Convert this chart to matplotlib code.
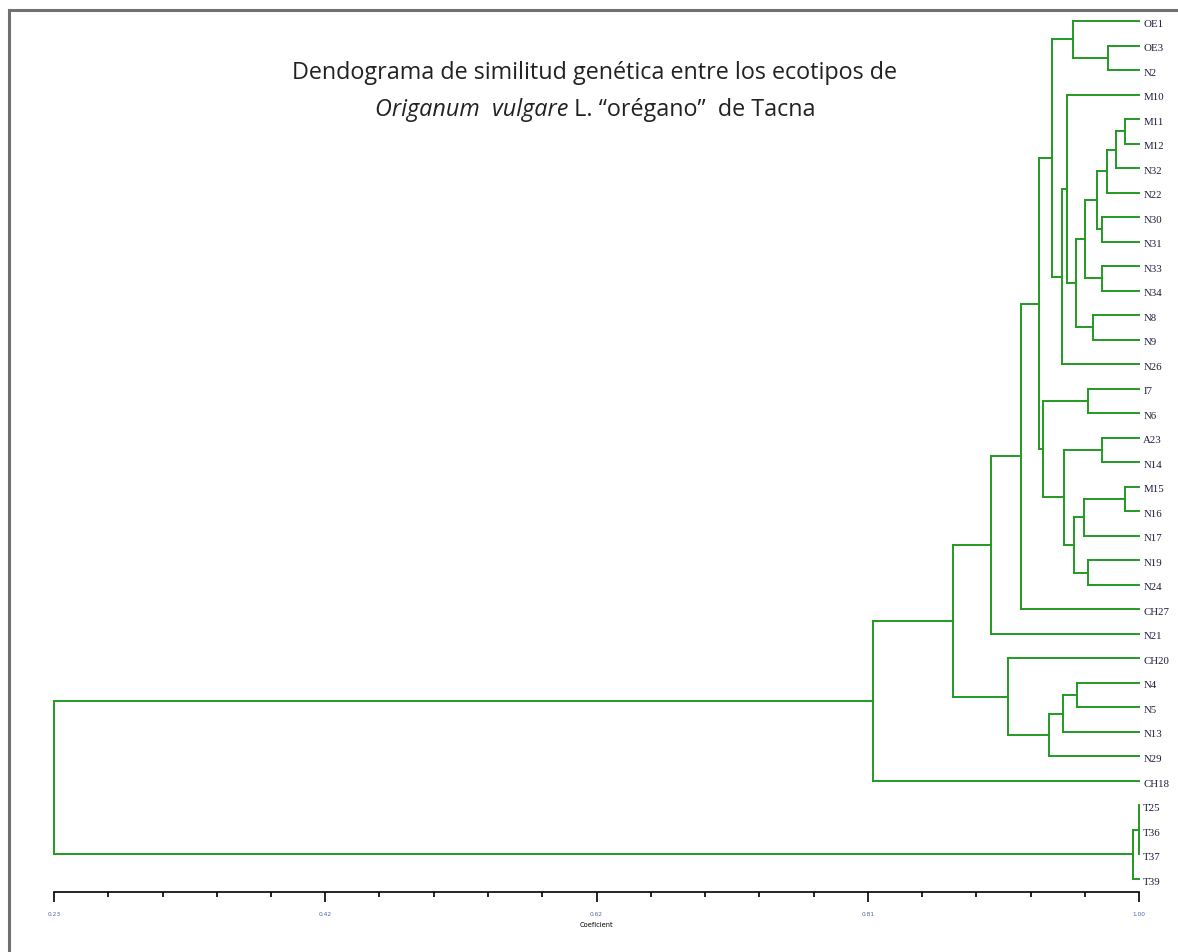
import matplotlib
matplotlib.use('Agg')
from matplotlib import pyplot as plt
from matplotlib.lines import Line2D

# leaves, top to bottom
leaves = ['OE1', 'OE3', 'N2', 'M10', 'M11', 'M12', 'N32', 'N22', 'N30', 'N31',
          'N33', 'N34', 'N8', 'N9', 'N26', 'I7', 'N6', 'A23', 'N14', 'M15',
          'N16', 'N17', 'N19', 'N24', 'CH27', 'N21', 'CH20', 'N4', 'N5', 'N13',
          'N29', 'CH18', 'T25', 'T36', 'T37', 'T39']

# merges: (cluster name, members, similarity coefficient)
merges = [
    ('a1', ['OE3', 'N2'], 0.978),
    ('a2', ['OE1', 'a1'], 0.953),
    ('b1', ['M11', 'M12'], 0.990),
    ('b2', ['b1', 'N32'], 0.984),
    ('b3', ['b2', 'N22'], 0.977),
    ('b4', ['N30', 'N31'], 0.974),
    ('b5', ['b3', 'b4'], 0.970),
    ('b6', ['N33', 'N34'], 0.974),
    ('b7', ['b5', 'b6'], 0.962),
    ('b8', ['N8', 'N9'], 0.967),
    ('b9', ['b7', 'b8'], 0.955),
    ('b10', ['M10', 'b9'], 0.949),
    ('b11', ['b10', 'N26'], 0.945),
    ('a3', ['a2', 'b11'], 0.938),
    ('c1', ['I7', 'N6'], 0.964),
    ('c2', ['A23', 'N14'], 0.974),
    ('c3', ['M15', 'N16'], 0.990),
    ('c4', ['c3', 'N17'], 0.961),
    ('c5', ['N19', 'N24'], 0.964),
    ('c6', ['c4', 'c5'], 0.954),
    ('c7', ['c2', 'c6'], 0.947),
    ('c8', ['c1', 'c7'], 0.932),
    ('d1', ['a3', 'c8'], 0.929),
    ('d2', ['d1', 'CH27'], 0.916),
    ('d3', ['d2', 'N21'], 0.895),
    ('e1', ['N4', 'N5'], 0.956),
    ('e2', ['e1', 'N13'], 0.946),
    ('e3', ['e2', 'N29'], 0.936),
    ('e4', ['CH20', 'e3'], 0.907),
    ('d4', ['d3', 'e4'], 0.868),
    ('d5', ['d4', 'CH18'], 0.811),
    ('t1', ['T25', 'T36', 'T37'], 1.000),
    ('t2', ['t1', 'T39'], 0.996),
    ('root', ['d5', 't2'], 0.230),
]

tick_vals = [0.23, 0.4225, 0.615, 0.8075, 1.00]
tick_labels = ['0.23', '0.42', '0.62', '0.81', '1.00']
minor_vals = [0.23 + i * 0.0385 for i in range(21)]

title1 = 'Dendograma de similitud genética entre los ecotipos de'
title2_it = 'Origanum  vulgare'
title2_rest = ' L. \u201corégano\u201d  de Tacna'

green = '#229a22'
W, H = 1178, 953

fig = plt.figure(figsize=(W / 100, H / 100), dpi=100)
ax = fig.add_axes([54 / W, (H - 893) / H, (1139 - 54) / W, (893 - 12) / H])

# positions
pos = {name: (1.0, i) for i, name in enumerate(leaves)}
for name, members, sim in merges:
    ys = [pos[m][1] for m in members]
    for m in members:
        mx, my = pos[m]
        ax.plot([sim, mx], [my, my], color=green, lw=1.4, clip_on=False,
                solid_capstyle='projecting')
    ax.plot([sim, sim], [min(ys), max(ys)], color=green, lw=1.4, clip_on=False,
            solid_capstyle='projecting')
    pos[name] = (sim, (min(ys) + max(ys)) / 2)

for i, name in enumerate(leaves):
    ax.annotate(name, (1.0, i), xytext=(3, -1.5), textcoords='offset points',
                ha='left', va='center', fontsize=7.8, family='Liberation Serif',
                color='#1a1a3a', annotation_clip=False)

ax.set_xlim(0.23, 1.0)
spacing = (880 - 22) / 35
ax.set_ylim(35 + 13 / spacing, -10 / spacing)
for s in ['top', 'right', 'left']:
    ax.spines[s].set_visible(False)
ax.spines['bottom'].set_bounds(0.23, 1.0)
ax.spines['bottom'].set_linewidth(1.2)
ax.set_yticks([])
ax.set_xticks(tick_vals)
ax.set_xticklabels(tick_labels, fontsize=4.2, color='#4a6aa0')
ax.set_xticks(minor_vals, minor=True)
ax.tick_params(axis='x', which='major', length=7, width=1.2, pad=7)
ax.tick_params(axis='x', which='minor', length=3.5, width=1.2)
ax.set_xlabel('Coeficient', fontsize=4.8, labelpad=3)

# titles
tsize = 16.8
fig.text(595 / W, 1 - 73 / H, title1, ha='center', va='center',
         fontsize=tsize, family='Open Sans', color='#222222')
t_it = fig.text(0, 1 - 110 / H, title2_it, ha='left', va='center',
                fontsize=tsize, family='Open Sans', style='italic', color='#222222')
t_rest = fig.text(0, 1 - 110 / H, title2_rest, ha='left', va='center',
                  fontsize=tsize, family='Open Sans', color='#222222')
fig.canvas.draw()
w_it = t_it.get_window_extent().width
w_rest = t_rest.get_window_extent().width
x0 = 595 - (w_it + w_rest) / 2
t_it.set_x(x0 / W)
t_rest.set_x((x0 + w_it) / W)

# page border
fig.add_artist(Line2D([9 / W, 9 / W], [0, 1 - 11 / H], color='#707070', lw=2.2,
                      transform=fig.transFigure))
fig.add_artist(Line2D([9 / W, 1], [1 - 11 / H, 1 - 11 / H], color='#707070', lw=2.2,
                      transform=fig.transFigure))

fig.savefig('out.png', dpi=100, facecolor='white')
